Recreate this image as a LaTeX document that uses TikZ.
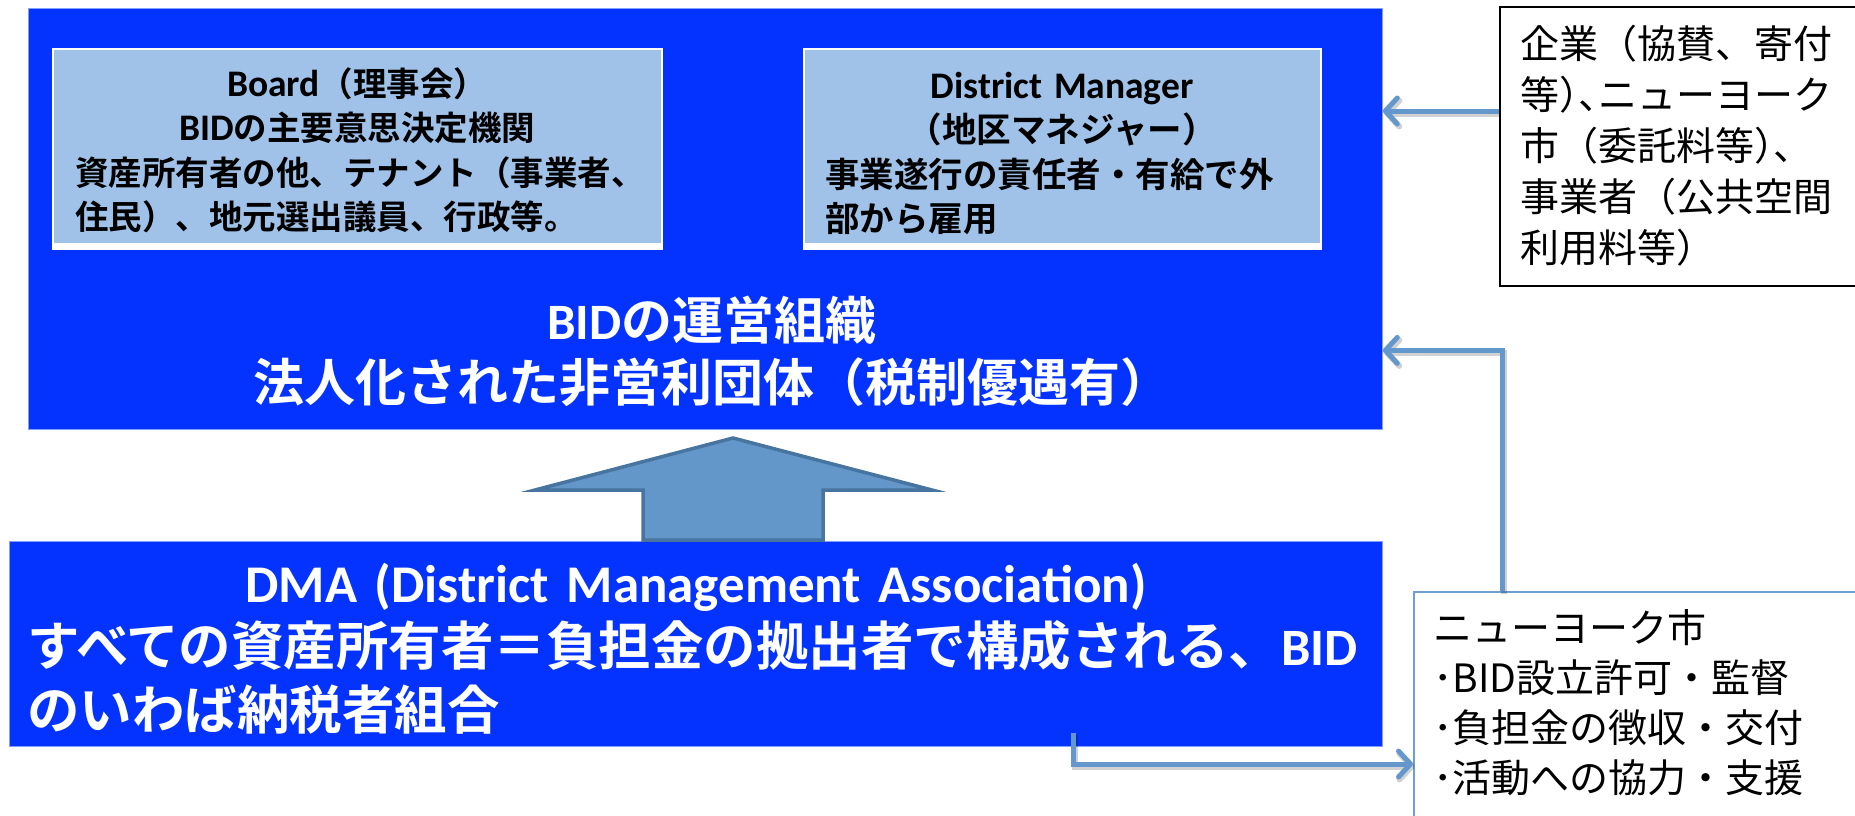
\documentclass[tikz,border=0pt]{standalone}
\usepackage{fontspec}
\setmainfont{Noto Sans CJK JP}[BoldFont={Noto Sans CJK JP Bold}]
\newfontfamily\lat{Carlito}
\newfontfamily\jphalt{Noto Sans CJK JP}[RawFeature=+halt]
\newcommand\hwpunct[1]{{\jphalt #1}}
\newcommand\latbig[1]{{\lat\fontsize{37.5}{44.5}\selectfont #1}}
\usetikzlibrary{arrows.meta}
\definecolor{mainblue}{RGB}{4,51,255}
\definecolor{edgeblue}{RGB}{130,160,255}
\definecolor{lightbox}{RGB}{160,194,232}
\definecolor{arrowfill}{RGB}{99,150,201}
\definecolor{arrowdraw}{RGB}{72,116,160}
\definecolor{connblue}{RGB}{100,152,204}
\definecolor{nycedge}{RGB}{110,158,212}
\tikzset{
  blkbox/.style={rectangle, fill=mainblue, draw=edgeblue, line width=0.8pt, inner sep=0pt, anchor=north west},
  litebox/.style={rectangle, fill=lightbox, inner sep=0pt, anchor=north west},
  sidebox/.style={rectangle, fill=white, line width=2pt, inner sep=0pt, anchor=north west},
  txt/.style={anchor=base west, inner sep=0pt},
  conn/.style={draw=connblue, line width=5pt, line cap=butt, line join=miter,
    -{Straight Barb[length=12pt,width=26pt,round]},
    preaction={draw=black, draw opacity=0.18, line width=6pt,
      transform canvas={xshift=1.5pt,yshift=-2.5pt}}},
  bigarrow/.style={fill=arrowfill, draw=arrowdraw, line width=3.5pt, line join=miter}
}
\begin{document}
\begin{tikzpicture}[x=1pt,y=-1pt]
\useasboundingbox (0,0) rectangle (1855,815);
% operating organisation
\node[blkbox, minimum width=1354pt, minimum height=421pt] (org) at (28,8) {};
\fill[white] (52,48) rectangle (663,250);
\node[litebox, minimum width=607pt, minimum height=193pt] (board) at (54,50) {};
\fill[white] (803,48) rectangle (1322,250);
\node[litebox, minimum width=515pt, minimum height=193pt] (dm) at (805,50) {};
\node[txt, text width=564pt, font=\bfseries\fontsize{33.5}{44.5}\selectfont] (boardtxt) at (75,96)
 {\centering\latbig{Board}（理事会）\\\latbig{BID}の主要意思決定機関\par
  \raggedright 資産所有者の他、テナント（事業者、\\住民）、地元選出議員、行政等。};
\node[txt, text width=474pt, font=\bfseries\fontsize{34.5}{44.5}\selectfont] (dmtxt) at (825,98)
 {\centering\latbig{District Manager}\\（地区マネジャー）\par
  \raggedright 事業遂行の責任者・有給で外\\部から雇用};
\node[anchor=base, inner sep=0pt, text width=1300pt, align=center, text=white,
      font=\bfseries\fontsize{51}{62}\selectfont] (title) at (712,339)
 {{\lat BID}の運営組織\\法人化された非営利団体（税制優遇有）};
% DMA
\node[blkbox, minimum width=1373pt, minimum height=205pt] (dma) at (9,541) {};
\node[txt, text width=1338pt, text=white, font=\bfseries\fontsize{52.5}{63.5}\selectfont] (dmatxt) at (27,602)
 {\centering{\lat\fontsize{53}{63.5}\selectfont DMA (District Management Association)}\par
  \raggedright すべての資産所有者＝負担金の拠出者で構成される、{\lat BID}\\のいわば納税者組合};
% big arrow
\draw[bigarrow] (733,438) -- (932,490) -- (823,490) -- (823,540) -- (643,540) -- (643,490) -- (535,490) -- cycle;
% side boxes
\node[sidebox, draw=black, minimum width=370pt, minimum height=279pt] (funds) at (1499,6) {};
\node[txt, text width=340pt, font=\fontsize{39}{51}\selectfont] (fundstxt) at (1520,58)
 {企業（協賛、寄付\\等\hwpunct{）、}ニューヨーク\\市（委託料等\hwpunct{）、}\\事業者（公共空間\\利用料等\hwpunct{）}};
\node[sidebox, draw=nycedge, minimum width=460pt, minimum height=240pt] (nyc) at (1413,591) {};
\node[txt, text width=420pt, font=\fontsize{39}{50}\selectfont] (nyctxt) at (1433,642)
 {ニューヨーク市\\･BID設立許可・監督\\･負担金の徴収・交付\\･活動への協力・支援};
% connectors
\draw[conn] ([yshift=35.5pt]funds.west) coordinate (a1) -- (a1 -| org.east);
\draw[conn] ([xshift=-142pt]nyc.north) |- ([yshift=-131.5pt]org.east);
\draw[conn] ([xshift=377.5pt,yshift=14pt]dma.south) |- ([yshift=-52pt]nyc.west);
\end{tikzpicture}
\end{document}
